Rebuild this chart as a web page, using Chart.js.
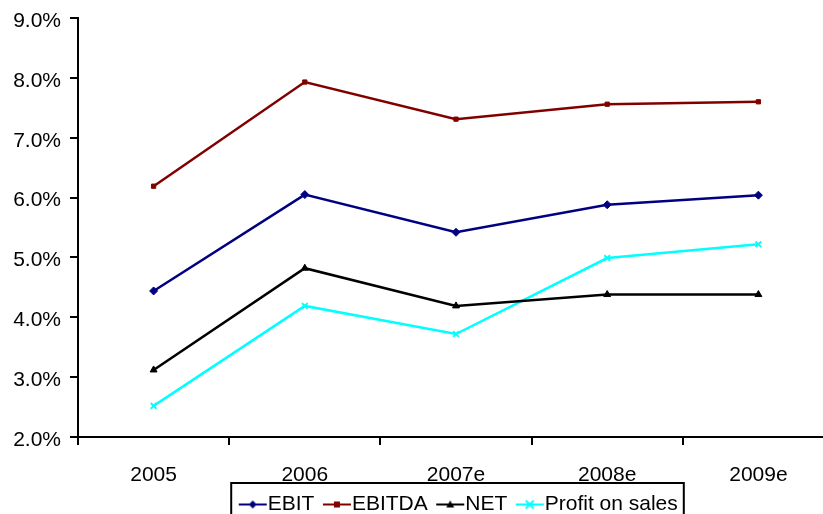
<!DOCTYPE html>
<html>
<head>
<meta charset="utf-8">
<script src="https://cdn.jsdelivr.net/npm/chart.js@4"></script>
<style>
  html, body { margin: 0; padding: 0; background: #fff; overflow: hidden; }
  #wrap { width: 823px; height: 514px; overflow: hidden; position: relative; }
  #box { width: 840px; height: 540px; }
</style>
</head>
<body>
<div id="wrap"><div id="box"><canvas id="myCanvas"></canvas></div></div>
<script>
const years = ["2005", "2006", "2007e", "2008e", "2009e"];
const ebit = [4.44, 6.05, 5.42, 5.88, 6.04];
const ebitda = [6.19, 7.93, 7.31, 7.56, 7.60];
const net = [3.12, 4.82, 4.19, 4.38, 4.38];
const profitOnSales = [2.52, 4.19, 3.72, 4.99, 5.22];
const yTicks = [2, 3, 4, 5, 6, 7, 8, 9];

const font = { family: "'Liberation Sans', Arial, sans-serif", size: 21 };

// legend sample: a line with the marker in the middle, drawn off-centre in the image
// so that it sits close to its label
function legendIcon(color, style) {
  const c = document.createElement("canvas");
  c.width = 44; c.height = 12;
  const g = c.getContext("2d");
  const a = 15;
  g.strokeStyle = color; g.fillStyle = color; g.lineWidth = 2;
  g.beginPath(); g.moveTo(a, 6); g.lineTo(a + 28, 6); g.stroke();
  const x = a + 14, y = 6;
  g.beginPath();
  if (style == "diamond") { g.moveTo(x, y - 4); g.lineTo(x + 4, y); g.lineTo(x, y + 4); g.lineTo(x - 4, y); g.closePath(); g.fill(); }
  else if (style == "square") { g.fillRect(x - 3, y - 3, 6, 6); }
  else if (style == "triangle") { g.moveTo(x, y - 4); g.lineTo(x + 4, y + 3); g.lineTo(x - 4, y + 3); g.closePath(); g.fill(); }
  else { g.moveTo(x - 4, y - 4); g.lineTo(x + 4, y + 4); g.moveTo(x + 4, y - 4); g.lineTo(x - 4, y + 4); g.stroke(); }
  return c;
}

const legendBorder = {
  id: "legendBorder",
  afterDraw(chart) {
    const boxes = chart.legend.legendHitBoxes;
    if (!boxes || !boxes.length) return;
    let l = Infinity, r = -Infinity;
    boxes.forEach(h => { l = Math.min(l, h.left); r = Math.max(r, h.left + h.width); });
    const top = chart.legend.top - 7;
    const ctx = chart.ctx;
    ctx.save();
    ctx.strokeStyle = "#000"; ctx.lineWidth = 2;
    ctx.strokeRect(l - 3, top, r - l + 9, 60);
    ctx.restore();
  }
};

function series(label, data, color, style, chartStyle, radius) {
  return {
    label: label, data: data,
    borderColor: color, backgroundColor: color,
    borderWidth: 2.5, pointStyle: chartStyle, pointRadius: radius,
    pointBorderWidth: style == "cross" ? 2 : 1,
    pointHoverRadius: radius,
    legendIcon: legendIcon(color, style)
  };
}

const ctx = document.getElementById("myCanvas").getContext("2d");
new Chart(ctx, {
  type: "line",
  data: {
    labels: years,
    datasets: [
      series("EBIT", ebit, "#000080", "diamond", "rectRot", 4),
      series("EBITDA", ebitda, "#800000", "square", "rect", 3),
      series("NET", net, "#000000", "triangle", "triangle", 4),
      series("Profit on sales", profitOnSales, "#00FFFF", "cross", "crossRot", 4)
    ]
  },
  plugins: [legendBorder],
  options: {
    responsive: true,
    maintainAspectRatio: false,
    animation: false,
    layout: { padding: { top: 18, right: 5, bottom: 15, left: 0 } },
    plugins: {
      tooltip: { enabled: false },
      legend: {
        position: "bottom",
        fullSize: false,
        labels: {
          font: font, color: "#000", usePointStyle: true, pointStyleWidth: 23, padding: 4,
          generateLabels(chart) {
            return chart.data.datasets.map((d, i) => ({
              text: d.label, pointStyle: d.legendIcon, fontColor: "#000",
              strokeStyle: d.borderColor, fillStyle: d.borderColor, lineWidth: 0, datasetIndex: i, hidden: false
            }));
          }
        }
      }
    },
    scales: {
      x: {
        offset: true,
        grid: { offset: true, drawOnChartArea: false, color: "#000", lineWidth: 2, tickLength: 8 },
        border: { color: "#000", width: 2 },
        ticks: { font: font, color: "#000", padding: 18, maxRotation: 0 },
        afterFit(scale) { scale.height = 53; }
      },
      y: {
        min: 2, max: 9,
        afterBuildTicks(scale) { scale.ticks = yTicks.map(v => ({ value: v })); },
        grid: { drawOnChartArea: false, color: "#000", lineWidth: 2, tickLength: 8 },
        border: { color: "#000", width: 2 },
        ticks: { font: font, color: "#000", padding: 9, labelOffset: 3, callback: v => v.toFixed(1) + "%" },
        afterFit(scale) { scale.width = 78; scale.paddingTop = 0; scale.paddingBottom = 0; }
      }
    }
  }
});
</script>
</body>
</html>
